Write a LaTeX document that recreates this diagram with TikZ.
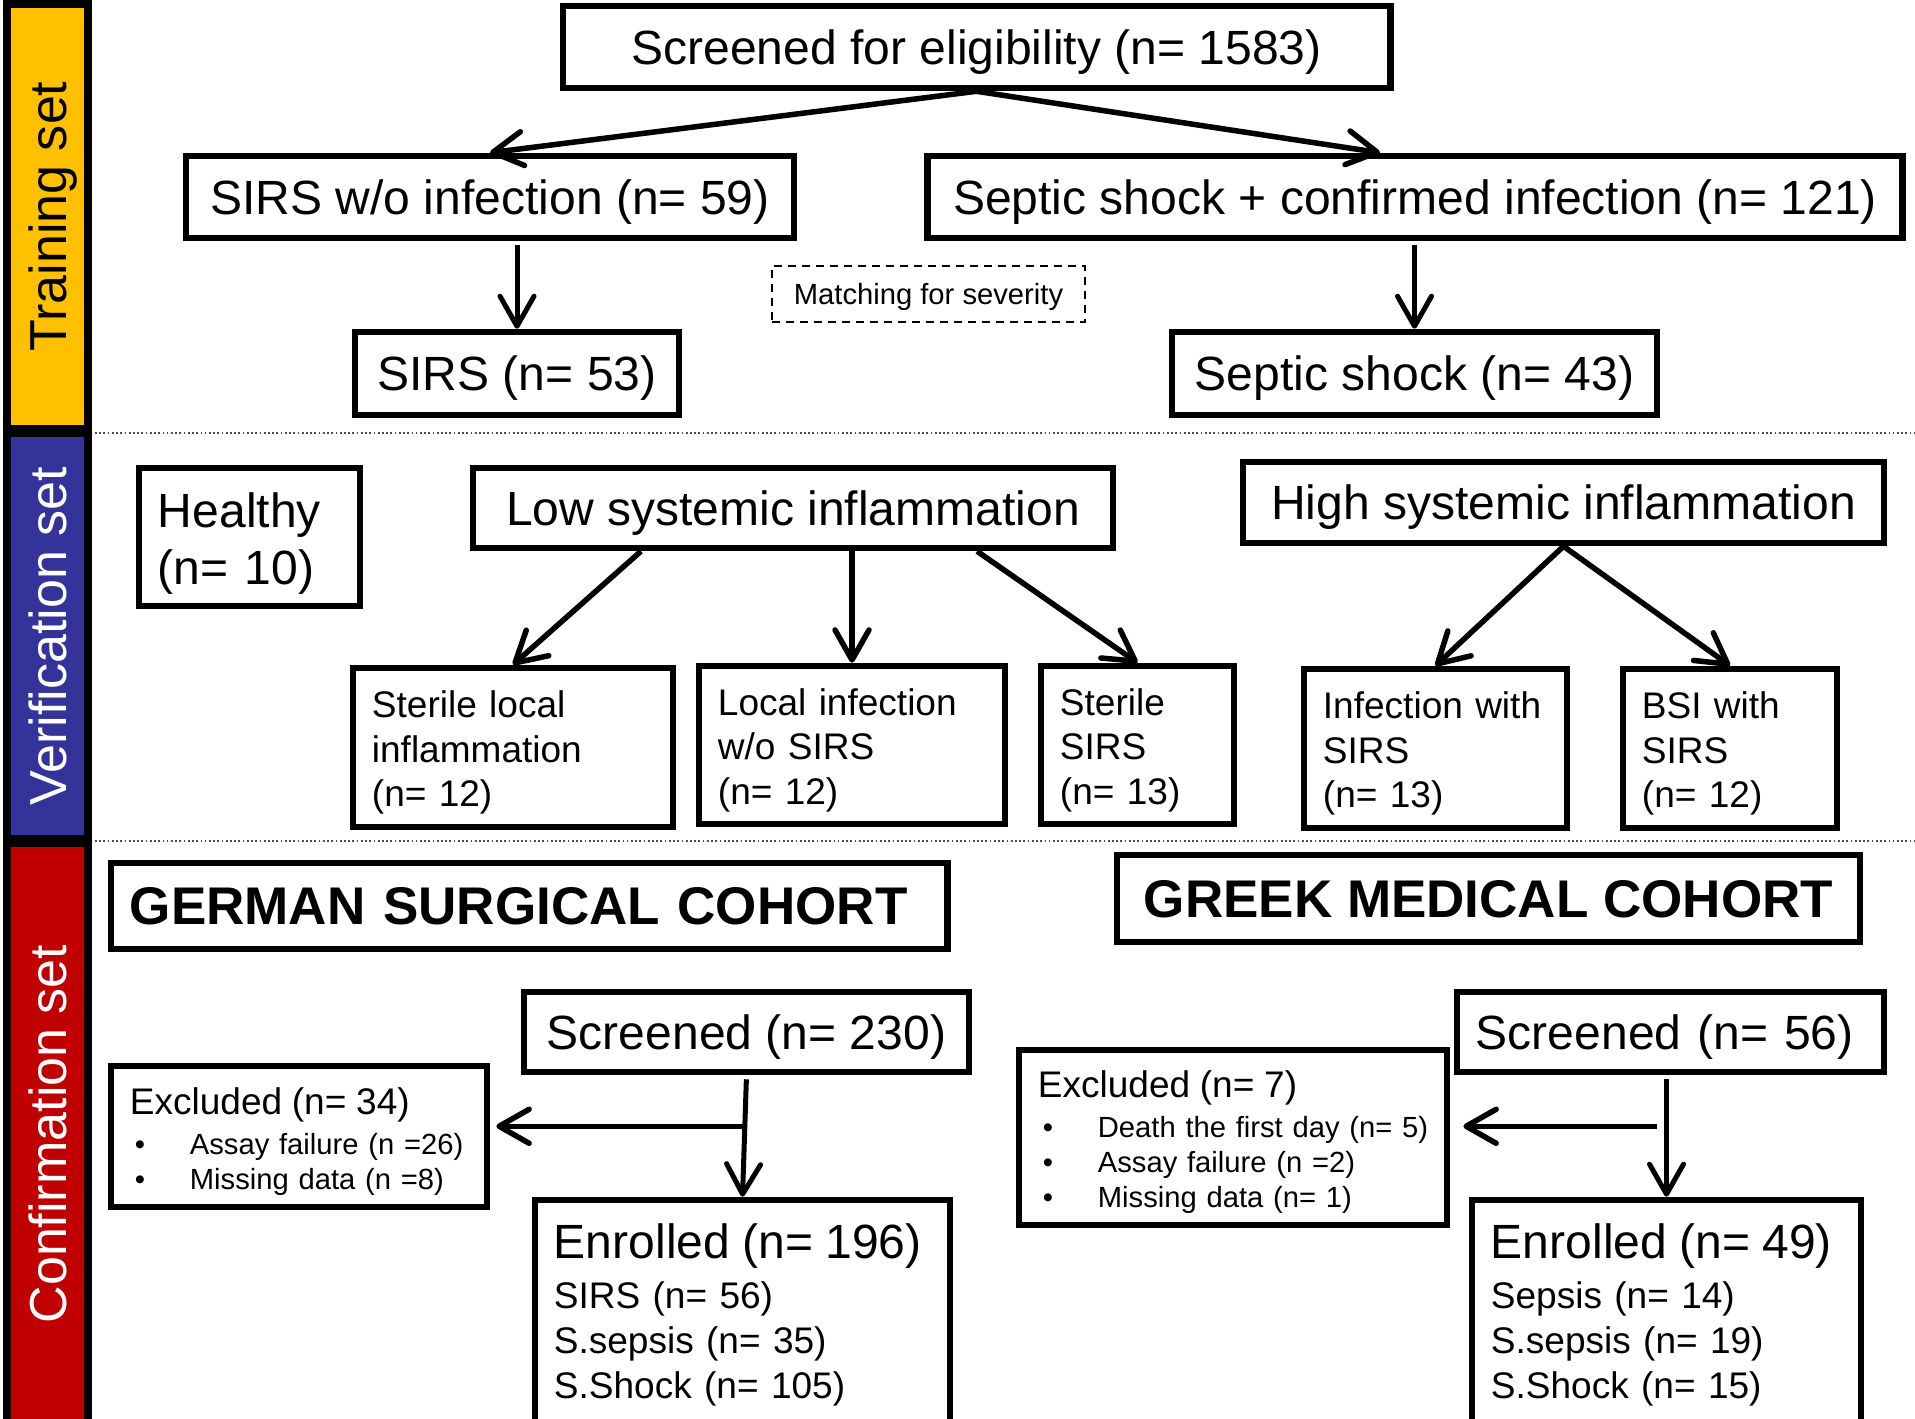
\documentclass[tikz,border=0pt]{standalone}
\usepackage{fontspec}
\setmainfont{Liberation Sans}
\usetikzlibrary{arrows.meta,calc}

\definecolor{trainyellow}{HTML}{FFC000}
\definecolor{verifblue}{HTML}{333399}
\definecolor{confred}{HTML}{C00000}

\newcommand{\bigsz}{\fontsize{13.66}{16.2}\selectfont}
\newcommand{\medsz}{\fontsize{10.53}{12.7}\selectfont}
\newcommand{\smsz}{\fontsize{8.3}{9.96}\selectfont}
\newcommand{\cohortsz}{\fontsize{15.08}{18}\selectfont\bfseries}
\newcommand{\bul}{\makebox[0.60cm][l]{\hspace{0.05cm}\textbullet}}
\newcommand{\tp}[1]{\rule{0pt}{#1}}

\begin{document}
\begin{tikzpicture}[x=0.01cm, y=-0.01cm,
    box/.style={draw, line width=0.065cm, inner sep=0pt, text depth=0pt, font=\bigsz},
    lbox/.style={box, align=left, inner xsep=0.19cm},
    mbox/.style={draw, line width=0.065cm, inner sep=0pt, inner xsep=0.19cm, align=left, font=\medsz},
    matchbox/.style={draw, line width=0.02cm, dash pattern=on 0.08cm off 0.06cm, inner sep=0pt, text depth=0pt, font=\smsz},
    sidebar/.style={draw, line width=0.08cm, rotate=90, inner sep=0pt, text depth=0pt, minimum height=0.81cm, font=\fontsize{14.8}{17}\selectfont},
    sepline/.style={black!70, line width=0.5pt, dash pattern=on 0.5pt off 0.7pt},
    arr/.style={-{Straight Barb[length=0.3cm, width=0.34cm, round]}, line width=0.055cm},
    varr/.style={arr, line width=0.05cm, shorten <=0.04cm}]
    \useasboundingbox (0,0) rectangle (1915,1418);
    \clip (0,0) rectangle (1915,1418);

    % side bars
    \node[sidebar, fill=trainyellow, minimum width=4.25cm] (train) at (47.5,216.5) {Training set};
    \node[sidebar, fill=verifblue, text=white, minimum width=4.06cm] (verif) at (47.5,636) {Verification set};
    \node[sidebar, fill=confred, text=white, minimum width=5.82cm] (conf) at (47.5,1134) {Confirmation set};
    \draw[sepline] (95,433) -- (1915,433);
    \draw[sepline] (95,841) -- (1915,841);

    % training set
    \node[box, minimum width=8.27cm, minimum height=0.82cm] (screen) at (976.5,47) {Screened for eligibility (n= 1583)};
    \node[box, minimum width=6.08cm, minimum height=0.82cm] (sirswo) at (490,197) {SIRS w/o infection (n= 59)};
    \node[box, minimum width=9.74cm, minimum height=0.82cm] (shockinf) at (1415,197) {Septic shock + confirmed infection (n= 121)};
    \node[matchbox, minimum width=3.13cm, minimum height=0.56cm] (match) at (928.5,294) {Matching for severity};
    \node[box, minimum width=3.24cm, minimum height=0.83cm] (sirs) at (517,373.5) {SIRS (n= 53)};
    \node[box, minimum width=4.85cm, minimum height=0.83cm] (shock) at (1414.5,373.5) {Septic shock (n= 43)};

    \draw[arr] (screen.south) -- (sirswo.north);
    \draw[arr] (screen.south) -- ([xshift=-0.35cm]shockinf.north);
    \draw[varr] (sirs.north |- sirswo.south) -- (sirs.north);
    \draw[varr] (shock.north |- shockinf.south) -- (shock.north);

    % verification set
    \node[mbox, font=\bigsz, text width=1.83cm, minimum height=1.38cm] (healthy) at (249.5,537) {\tp{0.47cm}Healthy\\(n= 10)};
    \node[box, minimum width=6.40cm, minimum height=0.80cm] (low) at (793,508) {Low systemic inflammation};
    \node[box, minimum width=6.41cm, minimum height=0.81cm] (high) at (1563.5,502.5) {High systemic inflammation};
    \node[mbox, text width=2.82cm, minimum height=1.59cm] (sterloc) at (513,747.5) {\tp{0.37cm}Sterile local\\inflammation\\(n= 12)};
    \node[mbox, text width=2.68cm, minimum height=1.58cm] (locinf) at (852,745) {\tp{0.37cm}Local infection\\w/o SIRS\\(n= 12)};
    \node[mbox, text width=1.55cm, minimum height=1.58cm] (stersirs) at (1137.5,745) {\tp{0.37cm}Sterile\\SIRS\\(n= 13)};
    \node[mbox, text width=2.25cm, minimum height=1.59cm] (infsirs) at (1435.5,748.5) {\tp{0.37cm}Infection with\\SIRS\\(n= 13)};
    \node[mbox, text width=1.76cm, minimum height=1.59cm] (bsi) at (1730,748.5) {\tp{0.37cm}BSI with\\SIRS\\(n= 12)};

    \draw[arr] ([xshift=-1.52cm]low.south) -- (sterloc.north);
    \draw[arr] (locinf.north |- low.south) -- (locinf.north);
    \draw[arr] ([xshift=1.84cm]low.south) -- (stersirs.north);
    \draw[arr] (high.south) -- (infsirs.north);
    \draw[arr] (high.south) -- (bsi.north);

    % confirmation set
    \node[lbox, font=\cohortsz, text width=7.98cm, minimum height=0.86cm] (german) at (529,906) {GERMAN SURGICAL COHORT};
    \node[box, font=\cohortsz, minimum width=7.43cm, minimum height=0.87cm] (greek) at (1488.5,898.5) {GREEK MEDICAL COHORT};

    \node[box, minimum width=4.45cm, minimum height=0.80cm] (scrde) at (746.5,1032) {Screened (n= 230)};
    \node[mbox, font=\smsz, text width=3.38cm, minimum height=1.41cm] (exclde) at (299,1136.5) {{\medsz\tp{0.37cm}Excluded (n= 34)}\\[1.4pt]\bul Assay failure (n =26)\\\bul Missing data (n =8)};
    \node[mbox, text width=3.77cm, minimum height=2.30cm] (enrde) at (742.5,1315) {{\bigsz Enrolled (n= 196)}\\[1.5pt]SIRS (n= 56)\\S.sepsis (n= 35)\\S.Shock (n= 105)};

    \node[lbox, text width=3.89cm, minimum height=0.80cm] (scrgr) at (1670.5,1032) {Screened (n= 56)};
    \node[mbox, font=\smsz, text width=3.90cm, minimum height=1.75cm] (exclgr) at (1233,1137.5) {{\medsz\tp{0.37cm}Excluded (n= 7)}\\[1.4pt]\bul Death the first day (n= 5)\\\bul Assay failure (n =2)\\\bul Missing data (n= 1)};
    \node[mbox, text width=3.51cm, minimum height=2.30cm] (enrgr) at (1666.5,1315) {{\bigsz Enrolled (n= 49)}\\[1.5pt]Sepsis (n= 14)\\S.sepsis (n= 19)\\S.Shock (n= 15)};

    \draw[varr] (scrde.south) -- (enrde.north);
    \coordinate (splitde) at ($(scrde.south)!0.42!(enrde.north)$);
    \draw[arr, shorten >=0.06cm] (splitde) -- (splitde -| exclde.east);
    \draw[varr] (enrgr.north |- scrgr.south) -- (enrgr.north);
    \coordinate (splitgr) at ($(enrgr.north |- scrgr.south)!0.42!(enrgr.north)$);
    \draw[arr, shorten <=0.1cm, shorten >=0.13cm] (splitgr) -- (splitgr -| exclgr.east);
\end{tikzpicture}
\end{document}
